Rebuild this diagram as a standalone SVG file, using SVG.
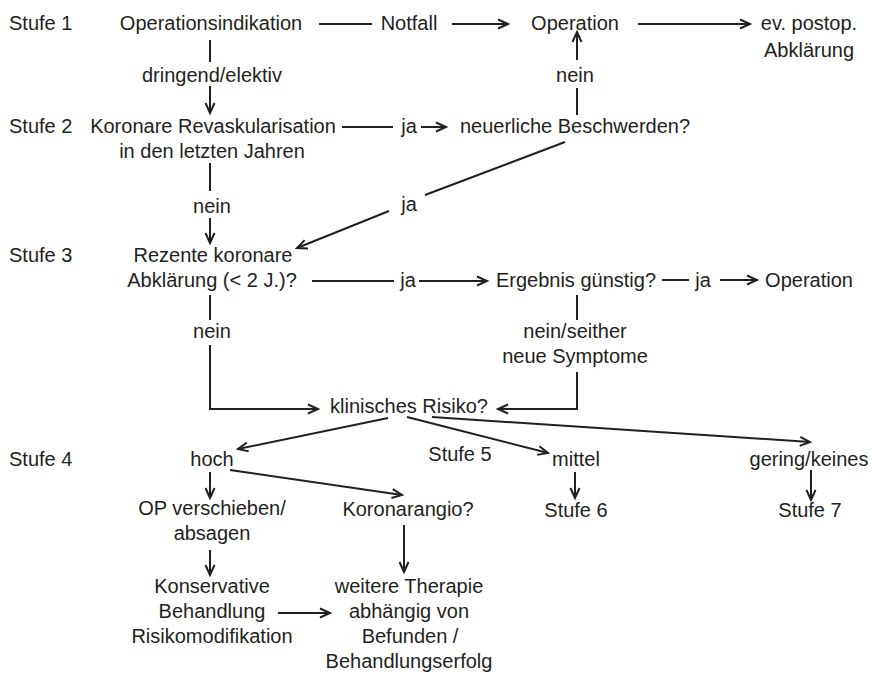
<svg xmlns="http://www.w3.org/2000/svg" width="872" height="675" viewBox="0 0 872 675">
<defs>
<marker id="ah" markerUnits="userSpaceOnUse" markerWidth="12" markerHeight="12" refX="10" refY="4.5" orient="auto" overflow="visible">
<path d="M0,0 L10,4.5 L0,9" fill="none" stroke="#231f20" stroke-width="2"/>
</marker>
</defs>
<style>
text{font-family:"Liberation Sans",Arial,Helvetica,sans-serif;font-size:20px;fill:#231f20}
.m{text-anchor:middle}
.c line,.c polyline{stroke:#231f20;stroke-width:2;fill:none}
.a{marker-end:url(#ah)}
</style>
<rect width="872" height="675" fill="#fff"/>
<g id="stufen">
<text x="9" y="30">Stufe 1</text>
<text x="9" y="133">Stufe 2</text>
<text x="9" y="262">Stufe 3</text>
<text x="9" y="466">Stufe 4</text>
</g>
<g id="n-opind"><text class="m" x="211" y="30">Operationsindikation</text></g>
<g id="l-notfall"><text class="m" x="409" y="30">Notfall</text></g>
<g id="n-op1"><text class="m" x="575" y="30">Operation</text></g>
<g id="n-postop"><text class="m" x="809" y="30">ev. postop.</text><text class="m" x="809" y="57">Abklärung</text></g>
<g id="l-dringend"><text class="m" x="212" y="82">dringend/elektiv</text></g>
<g id="l-nein1"><text class="m" x="575" y="82">nein</text></g>
<g id="n-revask"><text class="m" x="213" y="133">Koronare Revaskularisation</text><text class="m" x="212" y="158">in den letzten Jahren</text></g>
<g id="l-ja1"><text class="m" x="409" y="133">ja</text></g>
<g id="n-beschw"><text class="m" x="575" y="133">neuerliche Beschwerden?</text></g>
<g id="l-nein2"><text class="m" x="212" y="213">nein</text></g>
<g id="l-ja2"><text class="m" x="409" y="211">ja</text></g>
<g id="n-rezent"><text class="m" x="213" y="262">Rezente koronare</text><text class="m" x="212" y="287">Abklärung (&lt; 2 J.)?</text></g>
<g id="l-ja3"><text class="m" x="408" y="287">ja</text></g>
<g id="n-ergebnis"><text class="m" x="576" y="287">Ergebnis günstig?</text></g>
<g id="l-ja4"><text class="m" x="703" y="287">ja</text></g>
<g id="n-op2"><text class="m" x="809" y="287">Operation</text></g>
<g id="l-nein3"><text class="m" x="212" y="338">nein</text></g>
<g id="l-neinseither"><text class="m" x="575" y="338">nein/seither</text><text class="m" x="575" y="363">neue Symptome</text></g>
<g id="n-risiko"><text class="m" x="409" y="413">klinisches Risiko?</text></g>
<g id="n-hoch"><text class="m" x="212" y="466">hoch</text></g>
<g id="l-stufe5"><text class="m" x="460" y="461">Stufe 5</text></g>
<g id="n-mittel"><text class="m" x="576" y="466">mittel</text></g>
<g id="n-gering"><text class="m" x="809" y="466">gering/keines</text></g>
<g id="n-opversch"><text class="m" x="212" y="515">OP verschieben/</text><text class="m" x="212" y="540">absagen</text></g>
<g id="n-koronarangio"><text class="m" x="408" y="516">Koronarangio?</text></g>
<g id="n-stufe6"><text class="m" x="576" y="517">Stufe 6</text></g>
<g id="n-stufe7"><text class="m" x="810" y="517">Stufe 7</text></g>
<g id="n-konservativ"><text class="m" x="212" y="593">Konservative</text><text class="m" x="212" y="618">Behandlung</text><text class="m" x="212" y="643">Risikomodifikation</text></g>
<g id="n-weitere"><text class="m" x="409" y="593">weitere Therapie</text><text class="m" x="409" y="618">abhängig von</text><text class="m" x="410" y="643">Befunden /</text><text class="m" x="409" y="668">Behandlungserfolg</text></g>
<g id="connectors" class="c">
<line x1="319" y1="24" x2="372" y2="24"/>
<line class="a" x1="452" y1="24" x2="508" y2="24"/>
<line class="a" x1="638" y1="24" x2="750" y2="24"/>
<line x1="210" y1="40" x2="210" y2="62"/>
<line class="a" x1="210" y1="86" x2="210" y2="113"/>
<line x1="342" y1="127" x2="393" y2="127"/>
<line class="a" x1="421" y1="127" x2="446" y2="127"/>
<line x1="577" y1="115" x2="577" y2="88"/>
<line class="a" x1="577" y1="60" x2="577" y2="32"/>
<line x1="210" y1="163" x2="210" y2="191"/>
<line class="a" x1="210" y1="218" x2="210" y2="243"/>
<line x1="565" y1="142" x2="425" y2="195"/>
<line class="a" x1="389" y1="211" x2="297" y2="248"/>
<line x1="312" y1="281" x2="394" y2="281"/>
<line class="a" x1="419" y1="281" x2="487" y2="281"/>
<line x1="662" y1="280" x2="689" y2="280"/>
<line class="a" x1="720" y1="280" x2="757" y2="280"/>
<line x1="577" y1="295" x2="577" y2="320"/>
<polyline class="a" points="577,372 577,409 498,409"/>
<line x1="210" y1="295" x2="210" y2="320"/>
<polyline class="a" points="210,345 210,409 318,409"/>
<line class="a" x1="388" y1="418" x2="238" y2="449"/>
<line class="a" x1="407" y1="417" x2="548" y2="453"/>
<line class="a" x1="432" y1="417" x2="810" y2="442"/>
<line class="a" x1="230" y1="470" x2="402" y2="495"/>
<line class="a" x1="210" y1="472" x2="210" y2="498"/>
<line class="a" x1="210" y1="550" x2="210" y2="575"/>
<line class="a" x1="278" y1="613" x2="330" y2="613"/>
<line class="a" x1="404" y1="525" x2="404" y2="572"/>
<line class="a" x1="575" y1="472" x2="575" y2="498"/>
<line class="a" x1="811" y1="470" x2="811" y2="500"/>
</g>
</svg>
